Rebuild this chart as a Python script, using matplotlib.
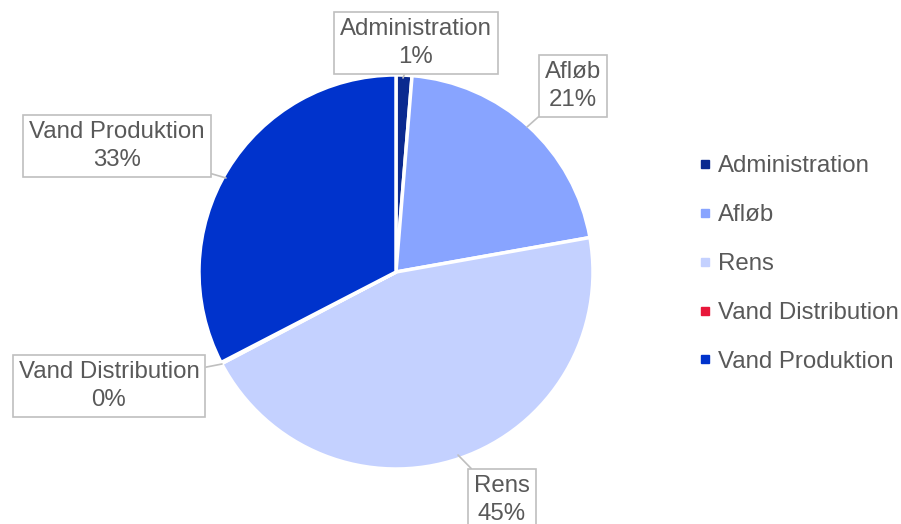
import matplotlib
matplotlib.use("Agg")
import matplotlib.pyplot as plt
from matplotlib.lines import Line2D

plt.rcParams['font.family'] = ['Liberation Sans', 'DejaVu Sans']

categories = ["Administration", "Afløb", "Rens", "Vand Distribution", "Vand Produktion"]
values = [1.3, 20.9, 45.1, 0.1, 32.6]
colors = ["#0B2A8F", "#88A4FF", "#C4D1FF", "#E8173A", "#0033CC"]

W, H = 901, 524
cx, cy, R = 396, 272, 197

fig = plt.figure(figsize=(W / 100, H / 100), dpi=100)
ax = fig.add_axes([(cx - R) / W, (H - cy - R) / H, 2 * R / W, 2 * R / H])

wedges, _ = ax.pie(values, colors=colors, startangle=90, counterclock=False,
                   radius=1, wedgeprops=dict(edgecolor='white', linewidth=2.5))
ax.set_xlim(-1, 1)
ax.set_ylim(-1, 1)
ax.set_aspect('equal')
ax.axis('off')

def d(px, py):
    return ((px - cx) / R, (cy - py) / R)

total = sum(values)
# label box centre (pixels) and pointer tip (pixels)
label_pos = [(416, 43), (573, 86), (502, 500), (109, 386), (117, 146)]
tip_pos = [(403, 78), (527, 127), (458, 455), (222, 364), (226, 178)]

for cat, v, lp, tp in zip(categories, values, label_pos, tip_pos):
    pct = round(v / total * 100)
    ax.annotate(f"{cat}\n{pct}%", xy=d(*tp), xytext=d(*lp),
                ha='center', va='center', fontsize=17.3, color='#595959',
                linespacing=1.33, annotation_clip=False,
                bbox=dict(boxstyle='square,pad=0.25', fc='white', ec='#BFBFBF', lw=1.2),
                arrowprops=dict(arrowstyle='-', color='#BFBFBF', lw=1.2,
                                shrinkA=0, shrinkB=0))

handles = [Line2D([0], [0], marker='s', linestyle='none', markersize=5.5,
                  markerfacecolor=c, markeredgecolor=c) for c in colors]
leg = fig.legend(handles, categories, loc='center left',
                 bbox_to_anchor=(700 / W, (H - 264) / H), frameon=False,
                 fontsize=17.3, labelcolor='#595959', labelspacing=1.12,
                 handlelength=0.4, handletextpad=0.35, borderpad=0,
                 borderaxespad=0)

fig.savefig("out.png", dpi=100, facecolor='white')
